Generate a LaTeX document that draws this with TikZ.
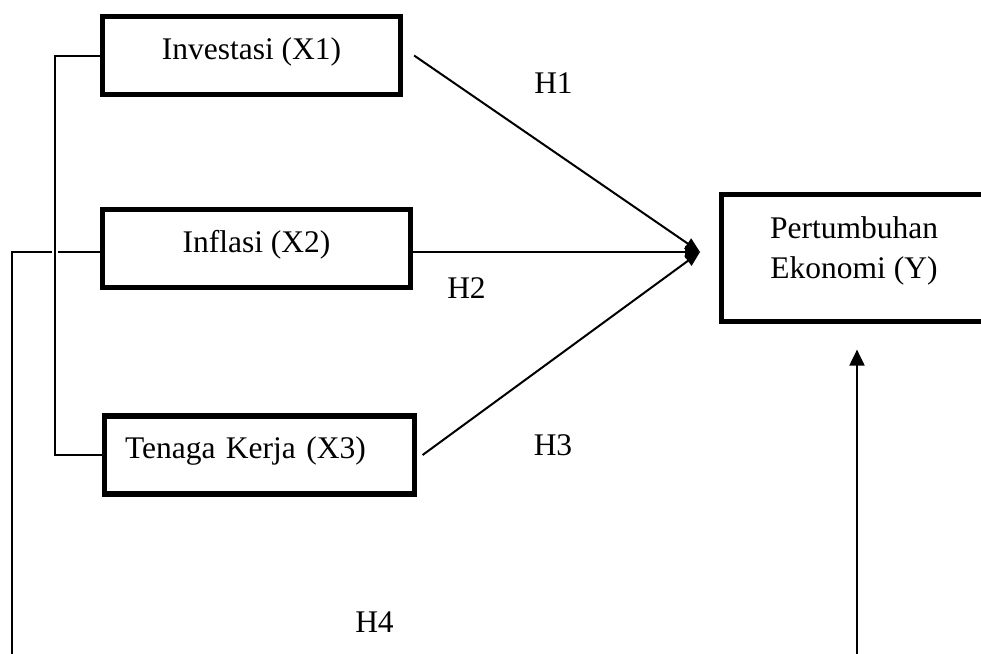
\documentclass[tikz,border=0pt]{standalone}
\usepackage{fontspec}
\setmainfont{Liberation Serif}
\usetikzlibrary{arrows.meta}

\begin{document}
\begin{tikzpicture}
[
x=0.5pt, y=-0.5pt,
every node/.style={font=\fontsize{15.75}{20}\selectfont, inner sep=0pt},
varbox/.style={draw, line width=2.6pt, minimum height=39pt, text height=11pt, text depth=7.5pt},
link/.style={line width=1pt},
hyp/.style={anchor=base},
hubtip/.style={-{Triangle[length=7.5pt,width=6pt]}}
]
\clip (0,0) rectangle (981,654);

\node[varbox, minimum width=149pt] (inv) at (251.5,55.5) {Investasi (X1)};
\node[varbox, minimum width=154pt] (inf) at (256.5,248.5) {Inflasi (X2)};
\node[varbox, inner xsep=10.25pt, text width=134.5pt, align=left] (tk) at (259.5,455) {Tenaga Kerja (X3)};
\node[varbox, minimum width=132.5pt, minimum height=63.5pt, text height=24pt, text depth=4pt, align=center] (pe) at (854,258) {Pertumbuhan\\Ekonomi (Y)};

\coordinate (hub) at (700,252);
\coordinate (brk) at (55,250);
\coordinate (lft) at (12,680);
\coordinate (pein) at ([xshift=1.5pt,yshift=-12.75pt]pe.south);

% H1, H2, H3
\draw[link, hubtip] ([xshift=5.5pt]inv.east) -- (hub);
\draw[link, hubtip] (inf.base east) -- (hub);
\draw[link, hubtip] ([xshift=2.75pt]tk.east) -- (hub);

% H4
\draw[link, -{Triangle[length=8pt,width=7.5pt]}] (inf.base west) -| (lft) -| (pein);
\draw[link, preaction={draw=white, line width=3pt, shorten <=3pt, shorten >=3pt}] (inv.west) -| (brk) |- (tk.west);

\node[hyp] (h1) at (553.5,93) {H1};
\node[hyp] (h2) at (466.5,298) {H2};
\node[hyp] (h3) at (553,455) {H3};
\node[hyp] (h4) at (374.5,632) {H4};
\end{tikzpicture}
\end{document}
